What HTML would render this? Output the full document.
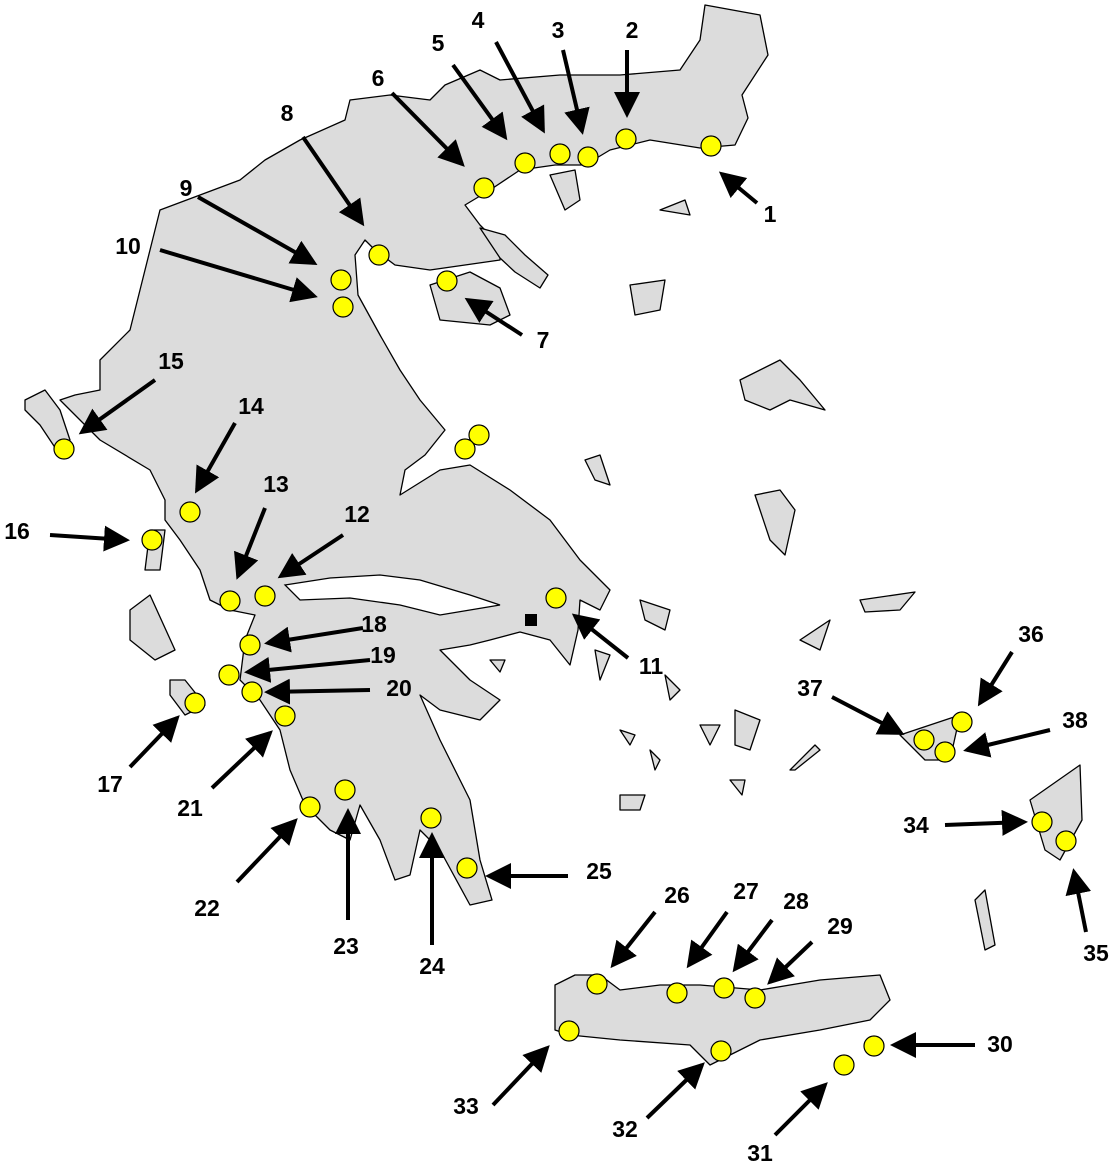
<!DOCTYPE html>
<html><head><meta charset="utf-8"><style>
html,body{margin:0;padding:0;background:#fff}
svg{display:block}
text{font-family:"Liberation Sans",sans-serif;font-weight:bold;font-size:23px;fill:#000;text-anchor:middle;dominant-baseline:middle}
</style></head><body>
<svg width="1112" height="1166" viewBox="0 0 1112 1166" xmlns="http://www.w3.org/2000/svg">
<defs>
<marker id="ah" markerWidth="6.5" markerHeight="6.5" refX="5.5" refY="3.25" orient="auto" markerUnits="strokeWidth">
<path d="M0,0 L6.5,3.25 L0,6.5 z" fill="#000"/></marker>
</defs>
<g fill="#dcdcdc" stroke="#000" stroke-width="1.3" stroke-linejoin="round">
<polygon points="265,160 300,140 345,120 350,100 390,95 430,100 445,85 480,70 500,80 560,75 620,75 680,70 700,40 705,5 760,15 768,55 742,95 748,118 735,145 700,148 650,140 610,150 585,165 555,165 520,170 490,190 465,205 480,225 500,245 500,260 430,270 395,265 375,250 365,240 355,255 358,295 380,335 400,370 420,400 445,430 425,455 405,470 400,495 440,470 470,465 510,490 550,520 580,560 610,590 600,610 580,600 578,630 570,665 550,640 520,632 490,640 470,645 440,650 470,680 500,700 480,720 440,710 420,695 440,740 470,800 480,860 492,900 470,905 440,850 420,830 410,875 395,880 380,840 360,805 350,840 330,830 305,805 290,770 280,730 260,700 240,680 245,640 255,615 230,610 210,600 200,570 180,540 165,520 165,500 150,470 100,440 80,420 60,400 75,395 100,390 100,360 130,330 140,290 150,250 160,210 200,195 240,180"/>
<polygon points="480,228 505,235 525,255 548,275 540,288 515,272 500,258"/>
<polygon points="430,285 470,272 500,288 510,315 490,325 440,320" />
<polygon points="555,985 575,975 600,975 620,990 660,985 700,985 760,990 820,980 880,975 890,1000 870,1020 820,1030 760,1040 710,1065 690,1045 620,1040 570,1035 555,1030"/>
<polygon points="740,380 780,360 800,380 825,410 790,400 770,410 745,400"/>
<polygon points="755,495 780,490 795,510 785,555 770,540 760,510"/>
<polygon points="800,640 830,620 820,650"/>
<polygon points="1030,800 1080,765 1082,820 1060,860 1045,850"/>
<polygon points="975,900 985,890 995,945 985,950"/>
<polygon points="550,175 575,170 580,200 565,210"/>
<polygon points="630,285 665,280 660,310 635,315"/>
<polygon points="660,210 685,200 690,215"/>
<polygon points="25,400 45,390 60,410 70,440 60,455 40,425 25,410"/>
<polygon points="150,530 165,530 160,570 145,570"/>
<polygon points="130,610 150,595 175,650 155,660 130,640"/>
<polygon points="170,680 185,680 205,705 185,715 170,695"/>
<polygon points="900,735 960,715 950,760 925,760"/>
<polygon points="735,710 760,720 750,750 735,745"/>
<polygon points="585,460 600,455 610,485 595,480"/>
<polygon points="640,600 670,610 665,630 645,620"/>
<polygon points="595,650 610,655 600,680"/>
<polygon points="620,730 635,735 630,745"/>
<polygon points="650,750 660,760 655,770"/>
<polygon points="700,725 720,725 710,745"/>
<polygon points="730,780 745,780 742,795"/>
<polygon points="620,795 645,795 640,810 620,810"/>
<polygon points="665,675 680,690 670,700"/>
<polygon points="790,770 815,745 820,750 795,770"/>
<polygon points="860,600 915,592 900,610 865,612"/>
<polygon points="490,660 505,660 500,672"/>
</g>
<polygon points="285,585 330,578 380,575 420,580 470,595 500,605 440,615 400,605 350,598 300,600" fill="#fff" stroke="#000" stroke-width="1.3"/>
<rect x="525" y="614" width="12" height="12" fill="#000"/>
<g stroke="#000" stroke-width="4" marker-end="url(#ah)" fill="none">
<line x1="757" y1="203" x2="722" y2="174"/>
<line x1="627" y1="50" x2="627" y2="114"/>
<line x1="563" y1="50" x2="582" y2="131"/>
<line x1="496" y1="42" x2="543" y2="130"/>
<line x1="453" y1="65" x2="505" y2="137"/>
<line x1="392" y1="93" x2="462" y2="164"/>
<line x1="522" y1="335" x2="468" y2="300"/>
<line x1="303" y1="137" x2="362" y2="223"/>
<line x1="198" y1="197" x2="314" y2="263"/>
<line x1="160" y1="250" x2="314" y2="296"/>
<line x1="155" y1="380" x2="82" y2="432"/>
<line x1="235" y1="423" x2="197" y2="490"/>
<line x1="50" y1="535" x2="126" y2="540"/>
<line x1="265" y1="508" x2="238" y2="576"/>
<line x1="343" y1="535" x2="281" y2="576"/>
<line x1="628" y1="658" x2="575" y2="616"/>
<line x1="363" y1="628" x2="268" y2="643"/>
<line x1="370" y1="660" x2="248" y2="672"/>
<line x1="370" y1="690" x2="268" y2="692"/>
<line x1="130" y1="767" x2="177" y2="718"/>
<line x1="212" y1="788" x2="270" y2="733"/>
<line x1="237" y1="882" x2="295" y2="821"/>
<line x1="348" y1="920" x2="348" y2="812"/>
<line x1="432" y1="945" x2="432" y2="836"/>
<line x1="568" y1="876" x2="489" y2="876"/>
<line x1="655" y1="912" x2="613" y2="965"/>
<line x1="727" y1="912" x2="689" y2="965"/>
<line x1="772" y1="920" x2="735" y2="969"/>
<line x1="812" y1="942" x2="770" y2="982"/>
<line x1="493" y1="1105" x2="547" y2="1048"/>
<line x1="647" y1="1118" x2="702" y2="1065"/>
<line x1="775" y1="1135" x2="825" y2="1085"/>
<line x1="975" y1="1045" x2="894" y2="1045"/>
<line x1="945" y1="825" x2="1024" y2="822"/>
<line x1="1086" y1="932" x2="1074" y2="872"/>
<line x1="832" y1="697" x2="901" y2="733"/>
<line x1="1012" y1="652" x2="980" y2="703"/>
<line x1="1050" y1="730" x2="967" y2="750"/>
</g>
<g fill="#ffff00" stroke="#000" stroke-width="1.2">
<circle cx="711" cy="146" r="10"/><circle cx="626" cy="139" r="10"/><circle cx="588" cy="157" r="10"/><circle cx="560" cy="154" r="10"/><circle cx="525" cy="163" r="10"/><circle cx="484" cy="188" r="10"/><circle cx="447" cy="281" r="10"/><circle cx="379" cy="255" r="10"/><circle cx="341" cy="280" r="10"/><circle cx="343" cy="307" r="10"/><circle cx="64" cy="449" r="10"/><circle cx="190" cy="512" r="10"/><circle cx="152" cy="540" r="10"/><circle cx="230" cy="601" r="10"/><circle cx="265" cy="596" r="10"/><circle cx="556" cy="598" r="10"/><circle cx="479" cy="435" r="10"/><circle cx="465" cy="449" r="10"/><circle cx="250" cy="645" r="10"/><circle cx="229" cy="675" r="10"/><circle cx="252" cy="692" r="10"/><circle cx="285" cy="716" r="10"/><circle cx="195" cy="703" r="10"/><circle cx="310" cy="807" r="10"/><circle cx="345" cy="790" r="10"/><circle cx="431" cy="818" r="10"/><circle cx="467" cy="868" r="10"/><circle cx="597" cy="984" r="10"/><circle cx="677" cy="993" r="10"/><circle cx="724" cy="988" r="10"/><circle cx="755" cy="998" r="10"/><circle cx="569" cy="1031" r="10"/><circle cx="721" cy="1051" r="10"/><circle cx="844" cy="1065" r="10"/><circle cx="874" cy="1046" r="10"/><circle cx="1042" cy="822" r="10"/><circle cx="1066" cy="841" r="10"/><circle cx="924" cy="740" r="10"/><circle cx="962" cy="722" r="10"/><circle cx="945" cy="752" r="10"/>
</g>
<g>
<text x="770" y="216">1</text><text x="632" y="32">2</text><text x="558" y="32">3</text><text x="478" y="22">4</text><text x="438" y="45">5</text><text x="378" y="80">6</text><text x="543" y="342">7</text><text x="287" y="115">8</text><text x="186" y="190">9</text><text x="128" y="248">10</text><text x="651" y="668">11</text><text x="357" y="516">12</text><text x="276" y="486">13</text><text x="251" y="408">14</text><text x="171" y="363">15</text><text x="17" y="533">16</text><text x="110" y="786">17</text><text x="374" y="626">18</text><text x="383" y="657">19</text><text x="399" y="690">20</text><text x="190" y="810">21</text><text x="207" y="910">22</text><text x="346" y="948">23</text><text x="432" y="968">24</text><text x="599" y="873">25</text><text x="677" y="897">26</text><text x="746" y="893">27</text><text x="796" y="903">28</text><text x="840" y="928">29</text><text x="1000" y="1046">30</text><text x="760" y="1155">31</text><text x="625" y="1131">32</text><text x="466" y="1108">33</text><text x="916" y="827">34</text><text x="1096" y="955">35</text><text x="1031" y="636">36</text><text x="810" y="690">37</text><text x="1075" y="722">38</text>
</g>
</svg>
</body></html>
